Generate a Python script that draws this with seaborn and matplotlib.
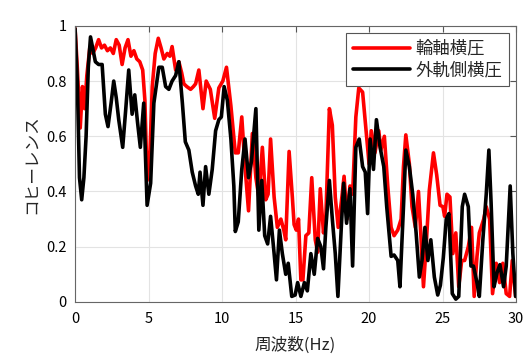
import matplotlib
matplotlib.use("Agg")
import matplotlib.pyplot as plt
import numpy as np
import pandas as pd
import seaborn as sns

# 輪軸横圧 (red)
red_freq = [0.0, 0.15, 0.35, 0.5, 0.65, 0.8, 1.0, 1.2, 1.4, 1.6, 1.8, 2.0, 2.2, 2.4, 2.6, 2.8,
            3.0, 3.2, 3.4, 3.6, 3.8, 4.0, 4.2, 4.4, 4.6, 4.75, 4.9, 5.1, 5.25, 5.45, 5.66, 5.85,
            6.04, 6.27, 6.45, 6.6, 6.84, 7.06, 7.25, 7.4, 7.6, 7.86, 8.05, 8.2, 8.42, 8.7, 8.92,
            9.2, 9.5, 9.78, 10.05, 10.3, 10.6, 10.9, 11.1, 11.34, 11.56, 11.8, 12.06, 12.3, 12.5,
            12.74, 12.97, 13.13, 13.3, 13.54, 13.76, 14.0, 14.2, 14.33, 14.56, 14.78, 14.9, 15.05,
            15.2, 15.36, 15.5, 15.7, 15.9, 16.1, 16.34, 16.5, 16.68, 16.9, 17.06, 17.3, 17.5, 17.7,
            17.9, 18.13, 18.3, 18.5, 18.7, 18.88, 19.1, 19.3, 19.56, 19.78, 20.0, 20.15, 20.4,
            20.66, 20.8, 21.04, 21.27, 21.5, 21.7, 21.95, 22.18, 22.34, 22.5, 22.74, 22.92, 23.15,
            23.36, 23.54, 23.7, 23.88, 24.1, 24.38, 24.6, 24.83, 25.02, 25.14, 25.3, 25.5, 25.7,
            25.9, 26.1, 26.3, 26.5, 26.75, 26.97, 27.15, 27.34, 27.5, 27.8, 27.97, 28.2, 28.4,
            28.65, 28.88, 29.1, 29.33, 29.56, 29.74, 29.97]
red_coh = [0.99, 0.85, 0.63, 0.78, 0.70, 0.82, 0.92, 0.90, 0.92, 0.95, 0.92, 0.93, 0.91, 0.92,
           0.90, 0.95, 0.93, 0.86, 0.92, 0.95, 0.89, 0.91, 0.88, 0.87, 0.84, 0.73, 0.44, 0.55,
           0.78, 0.90, 0.955, 0.92, 0.88, 0.90, 0.89, 0.925, 0.84, 0.87, 0.83, 0.79, 0.78, 0.77,
           0.78, 0.79, 0.84, 0.70, 0.80, 0.77, 0.665, 0.775, 0.80, 0.85, 0.71, 0.54, 0.54, 0.67,
           0.49, 0.33, 0.61, 0.45, 0.38, 0.56, 0.37, 0.39, 0.59, 0.38, 0.27, 0.30, 0.26, 0.225,
           0.545, 0.38, 0.28, 0.26, 0.30, 0.08, 0.08, 0.24, 0.25, 0.45, 0.225, 0.18, 0.41, 0.25,
           0.31, 0.70, 0.64, 0.38, 0.27, 0.37, 0.455, 0.30, 0.42, 0.39, 0.67, 0.775, 0.76, 0.63,
           0.50, 0.62, 0.54, 0.62, 0.55, 0.60, 0.42, 0.27, 0.24, 0.26, 0.30, 0.49, 0.605, 0.50,
           0.345, 0.27, 0.40, 0.225, 0.055, 0.20, 0.405, 0.54, 0.46, 0.35, 0.345, 0.31, 0.39,
           0.38, 0.175, 0.25, 0.055, 0.15, 0.15, 0.20, 0.27, 0.02, 0.165, 0.25, 0.30, 0.345, 0.30,
           0.03, 0.14, 0.07, 0.14, 0.03, 0.02, 0.15, 0.02]

# 外軌側横圧 (black)
blk_freq = [0.0, 0.15, 0.3, 0.45, 0.6, 0.75, 0.9, 1.05, 1.2, 1.38, 1.6, 1.84, 2.06, 2.24, 2.45,
            2.63, 2.8, 2.97, 3.24, 3.45, 3.65, 3.88, 4.06, 4.25, 4.44, 4.67, 4.9, 5.14, 5.36,
            5.7, 5.93, 6.16, 6.38, 6.6, 6.84, 7.06, 7.3, 7.5, 7.74, 7.97, 8.2, 8.38, 8.5, 8.7,
            8.88, 9.1, 9.33, 9.56, 9.78, 9.95, 10.14, 10.36, 10.6, 10.8, 10.9, 11.1, 11.34, 11.56,
            11.8, 12.0, 12.3, 12.5, 12.7, 12.9, 13.1, 13.3, 13.54, 13.7, 13.9, 14.1, 14.33, 14.5,
            14.74, 14.97, 15.14, 15.36, 15.6, 15.8, 16.04, 16.27, 16.5, 16.72, 16.9, 17.06, 17.3,
            17.5, 17.7, 17.88, 18.1, 18.27, 18.47, 18.7, 18.88, 19.1, 19.33, 19.56, 19.74, 19.9,
            20.07, 20.3, 20.5, 20.75, 21.0, 21.2, 21.5, 21.7, 21.95, 22.1, 22.34, 22.5, 22.74,
            22.97, 23.2, 23.42, 23.6, 23.8, 24.0, 24.2, 24.44, 24.67, 24.85, 25.05, 25.25, 25.43,
            25.66, 25.9, 26.1, 26.34, 26.5, 26.75, 26.93, 27.1, 27.34, 27.5, 27.74, 27.97, 28.15,
            28.3, 28.5, 28.7, 28.9, 29.15, 29.33, 29.6, 29.78, 29.97]
blk_coh = [0.99, 0.80, 0.45, 0.37, 0.45, 0.60, 0.85, 0.96, 0.92, 0.87, 0.86, 0.86, 0.68, 0.635,
           0.72, 0.80, 0.74, 0.66, 0.56, 0.70, 0.84, 0.68, 0.75, 0.65, 0.56, 0.72, 0.35, 0.43,
           0.72, 0.85, 0.85, 0.78, 0.77, 0.80, 0.82, 0.87, 0.72, 0.58, 0.55, 0.47, 0.42, 0.39,
           0.47, 0.35, 0.49, 0.39, 0.48, 0.62, 0.66, 0.67, 0.78, 0.73, 0.59, 0.42, 0.255, 0.29,
           0.48, 0.59, 0.45, 0.51, 0.70, 0.26, 0.44, 0.24, 0.21, 0.31, 0.175, 0.08, 0.26, 0.175,
           0.10, 0.14, 0.02, 0.025, 0.07, 0.02, 0.07, 0.04, 0.175, 0.10, 0.23, 0.20, 0.12, 0.27,
           0.44, 0.30, 0.175, 0.02, 0.26, 0.43, 0.285, 0.41, 0.13, 0.56, 0.59, 0.49, 0.47, 0.32,
           0.59, 0.48, 0.66, 0.56, 0.49, 0.345, 0.165, 0.17, 0.15, 0.055, 0.345, 0.55, 0.49, 0.39,
           0.25, 0.09, 0.15, 0.27, 0.15, 0.225, 0.09, 0.025, 0.06, 0.16, 0.30, 0.32, 0.03, 0.01,
           0.02, 0.345, 0.39, 0.345, 0.13, 0.13, 0.07, 0.02, 0.225, 0.39, 0.55, 0.36, 0.055,
           0.105, 0.135, 0.055, 0.13, 0.42, 0.175, 0.02]

x_ticks = [0, 5, 10, 15, 20, 25, 30]
y_ticks = [0, 0.2, 0.4, 0.6, 0.8, 1.0]
y_tick_labels = ["0", "0.2", "0.4", "0.6", "0.8", "1"]

sns.set_style("whitegrid")
plt.rcParams['font.family'] = ['Noto Sans CJK JP', 'DejaVu Sans']

df_red = pd.DataFrame({"freq": red_freq, "coh": red_coh})
df_blk = pd.DataFrame({"freq": blk_freq, "coh": blk_coh})

fig = plt.figure(figsize=(5.25, 3.59), dpi=100)
ax = fig.add_axes([0.143, 0.159, 0.84, 0.769])

sns.lineplot(data=df_red, x="freq", y="coh", ax=ax, color="#ff0000", linewidth=2.6,
             label="輪軸横圧", estimator=None, sort=False)
sns.lineplot(data=df_blk, x="freq", y="coh", ax=ax, color="black", linewidth=2.6,
             label="外軌側横圧", estimator=None, sort=False)

ax.set_xlim(0, 30)
ax.set_ylim(0, 1)
ax.set_xticks(x_ticks)
ax.set_yticks(y_ticks)
ax.set_yticklabels(y_tick_labels)
ax.tick_params(direction="in", length=4, top=True, right=True, labelsize=10.5,
               color="#555555", labelcolor="black")
ax.tick_params(axis="x", pad=7)
ax.tick_params(axis="y", pad=6)
ax.grid(True, color="#e3e3e3", linewidth=0.8)
for s in ax.spines.values():
    s.set_edgecolor("#666666")
    s.set_linewidth(0.8)

ax.set_xlabel("周波数(Hz)", fontsize=12, labelpad=8)
ax.set_ylabel("コヒーレンス", fontsize=12, labelpad=4)

leg = ax.legend(loc="upper right", fontsize=12.5, handlelength=3.3, frameon=True,
                fancybox=False, borderaxespad=0.4, handletextpad=0.3,
                labelspacing=0.2, borderpad=0.4)
leg.get_frame().set_edgecolor("#555555")
leg.get_frame().set_linewidth(0.8)
leg.get_frame().set_alpha(1.0)

fig.savefig("out.png", dpi=100)
